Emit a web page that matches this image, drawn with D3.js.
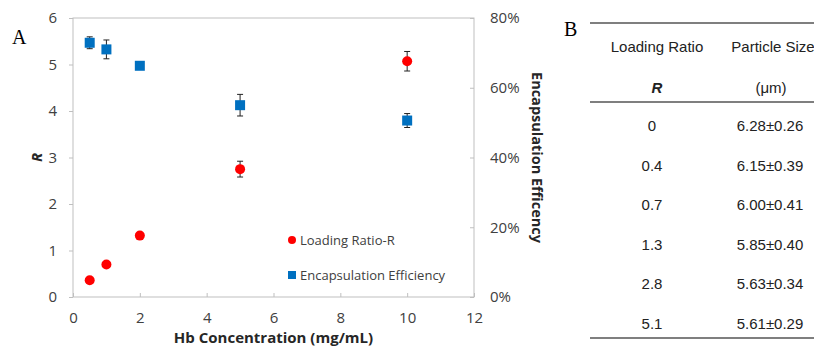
<!DOCTYPE html>
<html>
<head>
<meta charset="utf-8">
<script src="https://cdn.jsdelivr.net/npm/d3@7"></script>
<style>
  body { margin: 0; background: #fff; }
  svg { display: block; }
</style>
</head>
<body>
<svg id="chart" width="814" height="347"></svg>
<script>
// data
const hbConc = [0.5, 1, 2, 5, 10];
const loadingR = [0.36, 0.70, 1.32, 2.75, 5.07];
const loadingErr = [0, 0, 0, 0.17, 0.21];
const encEff = [0.729, 0.710, 0.663, 0.550, 0.506];
const encErr = [0.017, 0.027, 0, 0.031, 0.020];

const xTicks = [0, 2, 4, 6, 8, 10, 12];
const yTicks = [0, 1, 2, 3, 4, 5, 6];
const y2Ticks = [0, 0.2, 0.4, 0.6, 0.8];

const tableR = ["0", "0.4", "0.7", "1.3", "2.8", "5.1"];
const tableSize = ["6.28±0.26", "6.15±0.39", "6.00±0.41", "5.85±0.40", "5.63±0.34", "5.61±0.29"];

const svg = d3.select("#chart");
const axisColor = "#bfbfbf";
const textColor = "#404040";
const chartFont = "'Open Sans', 'Noto Sans', sans-serif";

// plot area
const pLeft = 73, pRight = 474, pTop = 18, pBottom = 297;

const x = d3.scaleLinear().domain([0, 12]).range([pLeft, pRight]);
const y = d3.scaleLinear().domain([0, 6]).range([pBottom, pTop]);
const y2 = d3.scaleLinear().domain([0, 0.8]).range([pBottom, pTop]);

// frame
svg.append("rect")
    .attr("x", pLeft).attr("y", pTop)
    .attr("width", pRight - pLeft).attr("height", pBottom - pTop)
    .attr("fill", "none").attr("stroke", axisColor).attr("stroke-width", 1);

// axes
const styleAxis = g => {
    g.select(".domain").remove();
    g.selectAll(".tick line").attr("stroke", axisColor);
    g.selectAll(".tick text")
        .attr("fill", textColor)
        .style("font-family", chartFont)
        .style("font-size", "15px");
};

svg.append("g")
    .attr("transform", `translate(0,${pBottom})`)
    .call(d3.axisBottom(x).tickValues(xTicks).tickSize(-4).tickPadding(15))
    .call(styleAxis);

svg.append("g")
    .attr("transform", `translate(${pLeft},0)`)
    .call(d3.axisLeft(y).tickValues(yTicks).tickSize(4).tickPadding(12)
        .tickFormat(d3.format("d")))
    .call(styleAxis);

svg.append("g")
    .attr("transform", `translate(${pRight},0)`)
    .call(d3.axisRight(y2).tickValues(y2Ticks).tickSize(-4).tickPadding(16)
        .tickFormat(d3.format(".0%")))
    .call(styleAxis);

// axis titles
svg.append("text")
    .attr("x", (pLeft + pRight) / 2).attr("y", 343)
    .attr("text-anchor", "middle")
    .attr("fill", "#262626")
    .style("font-family", chartFont).style("font-size", "15px").style("font-weight", "bold")
    .text("Hb  Concentration (mg/mL)");

svg.append("text")
    .attr("transform", `translate(42,${(pTop + pBottom) / 2}) rotate(-90)`)
    .attr("text-anchor", "middle")
    .attr("fill", "#262626")
    .style("font-family", chartFont).style("font-size", "15px")
    .style("font-weight", "bold").style("font-style", "italic")
    .text("R");

svg.append("text")
    .attr("transform", `translate(532,${(pTop + pBottom) / 2}) rotate(90)`)
    .attr("text-anchor", "middle")
    .attr("fill", "#262626")
    .style("font-family", chartFont).style("font-size", "14.5px").style("font-weight", "bold")
    .text("Encapsulation Efficency");

// error bars
const drawErr = (vals, errs, scale) => {
    const g = svg.append("g").attr("stroke", "#222").attr("stroke-width", 1);
    hbConc.forEach((c, i) => {
        if (!errs[i]) return;
        const cx = x(c);
        const y0 = scale(vals[i] - errs[i]), y1 = scale(vals[i] + errs[i]);
        g.append("line").attr("x1", cx).attr("x2", cx).attr("y1", y0).attr("y2", y1);
        g.append("line").attr("x1", cx - 3).attr("x2", cx + 3).attr("y1", y0).attr("y2", y0);
        g.append("line").attr("x1", cx - 3).attr("x2", cx + 3).attr("y1", y1).attr("y2", y1);
    });
};

drawErr(loadingR, loadingErr, y);
drawErr(encEff, encErr, y2);

// markers
svg.append("g").selectAll("circle")
    .data(hbConc)
    .join("circle")
    .attr("cx", d => x(d))
    .attr("cy", (d, i) => y(loadingR[i]))
    .attr("r", 5)
    .attr("fill", "#ff0000");

svg.append("g").selectAll("rect")
    .data(hbConc)
    .join("rect")
    .attr("x", d => x(d) - 5)
    .attr("y", (d, i) => y2(encEff[i]) - 5)
    .attr("width", 10).attr("height", 10)
    .attr("fill", "#0070c0");

// legend
const leg = svg.append("g").attr("transform", "translate(292,240)");
leg.append("circle").attr("cx", 0).attr("cy", 0).attr("r", 4).attr("fill", "#ff0000");
leg.append("text").attr("x", 8).attr("y", 4.5)
    .attr("fill", textColor).style("font-family", chartFont).style("font-size", "13px")
    .text("Loading Ratio-R");
leg.append("rect").attr("x", -4).attr("y", 31).attr("width", 8).attr("height", 8).attr("fill", "#0070c0");
leg.append("text").attr("x", 8).attr("y", 39.5)
    .attr("fill", textColor).style("font-family", chartFont).style("font-size", "13px")
    .text("Encapsulation Efficiency");

// panel letters
svg.append("text").attr("x", 12).attr("y", 44)
    .style("font-family", "'Liberation Serif', serif").style("font-size", "20px")
    .text("A");
svg.append("text").attr("x", 564).attr("y", 36)
    .style("font-family", "'Liberation Serif', serif").style("font-size", "20px")
    .text("B");

// table B
const tFont = "'Liberation Sans', Arial, sans-serif";
const col1 = 652, col2 = 770;
const tableLine = (yy) => svg.append("line")
    .attr("x1", 590).attr("x2", 814).attr("y1", yy).attr("y2", yy)
    .attr("stroke", "#555").attr("stroke-width", 1.5);
tableLine(23);
tableLine(102);
tableLine(338);

const tText = (tx, ty, s) => svg.append("text")
    .attr("x", tx).attr("y", ty).attr("text-anchor", "middle")
    .attr("fill", "#222")
    .style("font-family", tFont).style("font-size", "15px")
    .text(s);

tText(657, 52, "Loading Ratio");
tText(773, 52, "Particle Size");
tText(657, 93, "R").style("font-weight", "bold").style("font-style", "italic");
tText(771, 93, "(μm)");

const rowY = d3.scalePoint().domain(d3.range(tableR.length)).range([131, 329]);
tableR.forEach((r, i) => {
    tText(col1, rowY(i), r);
    tText(col2, rowY(i), tableSize[i]);
});
</script>
</body>
</html>
